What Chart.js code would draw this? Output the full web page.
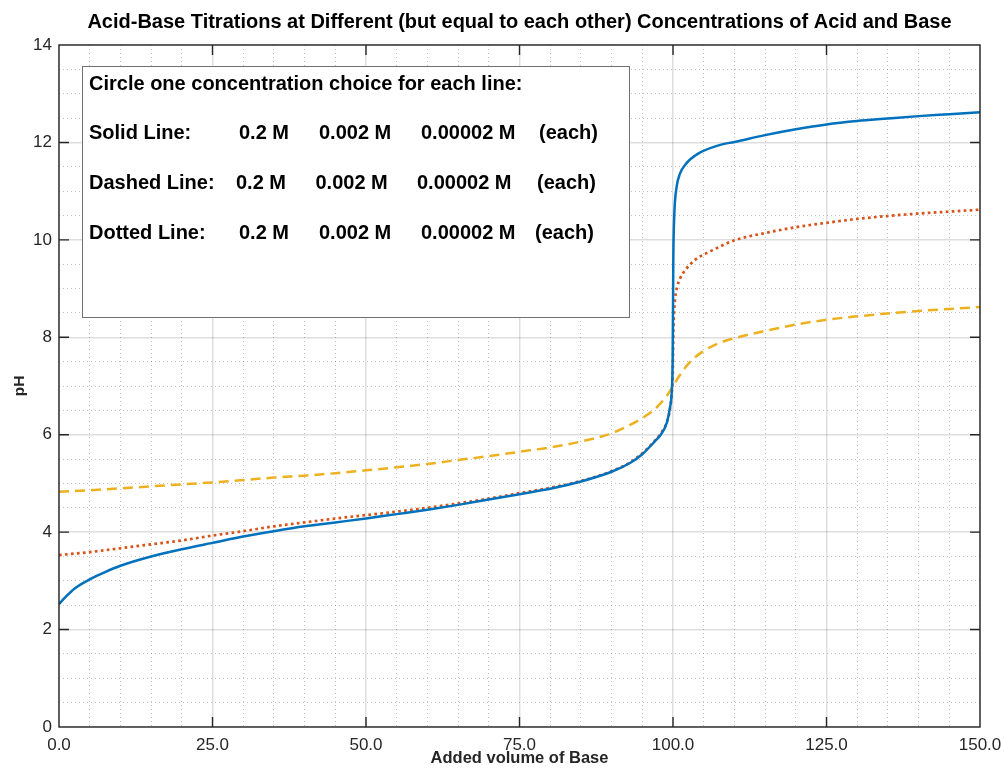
<!DOCTYPE html>
<html>
<head>
<meta charset="utf-8">
<script src="https://cdn.jsdelivr.net/npm/chart.js@4.4.1/dist/chart.umd.min.js"></script>
<style>
  body { margin: 0; background: #fff; }
  #c { display: block; }
</style>
</head>
<body>
<canvas id="c" width="1004" height="775"></canvas>
<script>
// readings: added volume of base vs pH
const solidVol = [0, 1, 2.5, 5, 7.5, 10, 15, 20, 25, 30, 35, 40, 45, 50, 55, 60, 65, 70, 75, 80, 85, 90, 93, 95, 97, 98, 99, 99.5, 99.8, 99.95, 100.05, 100.15, 100.3, 100.6, 101.1, 102.1, 104.1, 107.7, 110, 115, 120, 125, 130, 135, 140, 145, 150];
const solidPH = [2.52, 2.66, 2.84, 3.03, 3.18, 3.31, 3.50, 3.65, 3.78, 3.91, 4.02, 4.12, 4.20, 4.28, 4.37, 4.46, 4.56, 4.67, 4.78, 4.89, 5.04, 5.24, 5.42, 5.60, 5.86, 6.0, 6.25, 6.55, 6.9, 7.6, 9.6, 10.3, 10.75, 11.1, 11.35, 11.56, 11.77, 11.95, 12.01, 12.15, 12.27, 12.37, 12.44, 12.49, 12.54, 12.58, 12.62];

const dottedVol = [0, 5, 10, 15, 20, 25, 30, 35, 40, 45, 50, 55, 60, 65, 70, 75, 80, 85, 90, 93, 95, 97, 98, 99, 99.5, 99.8, 99.95, 100.05, 100.15, 100.35, 100.7, 101.2, 102, 103.6, 106.5, 110, 115, 120, 125, 130, 135, 140, 145, 150];
const dottedPH = [3.53, 3.59, 3.67, 3.75, 3.83, 3.93, 4.02, 4.12, 4.20, 4.28, 4.35, 4.42, 4.50, 4.59, 4.69, 4.80, 4.91, 5.05, 5.25, 5.43, 5.62, 5.87, 6.02, 6.26, 6.52, 6.85, 7.2, 8.0, 8.45, 8.8, 9.04, 9.22, 9.38, 9.59, 9.79, 9.99, 10.14, 10.26, 10.35, 10.43, 10.49, 10.54, 10.58, 10.62];

const dashedVol = [0, 5, 10, 15, 20, 25, 30, 35, 40, 45, 50, 55, 60, 65, 70, 75, 80, 85, 90, 93, 95, 97, 98, 99, 100, 101, 102, 103.5, 105, 107.5, 110, 115, 120, 125, 130, 135, 140, 145, 150];
const dashedPH = [4.83, 4.86, 4.90, 4.94, 4.98, 5.02, 5.07, 5.12, 5.16, 5.21, 5.27, 5.33, 5.40, 5.48, 5.56, 5.65, 5.74, 5.86, 6.03, 6.2, 6.34, 6.52, 6.65, 6.8, 7.0, 7.2, 7.38, 7.58, 7.72, 7.88, 7.98, 8.13, 8.26, 8.36, 8.43, 8.49, 8.54, 8.58, 8.62];

const lineNames = ['Solid Line:', 'Dashed Line:', 'Dotted Line:'];
const concChoices = ['0.2 M', '0.002 M', '0.00002 M'];
const boxHeading = 'Circle one concentration choice for each line:';

const FONT = '"Liberation Sans", Arial, Helvetica, sans-serif';
const INK = '#262626';

function toPoints(xs, ys) {
  return xs.map((x, i) => ({ x: x, y: ys[i] }));
}

// MATLAB-ish box, inward ticks and the text box
const framePlugin = {
  id: 'frame',
  afterDatasetsDraw(chart) {
    const ctx = chart.ctx;
    const a = chart.chartArea;
    const bx = a.left + 23, by = a.top + 21, bw = 547, bh = 251;
    ctx.save();
    ctx.fillStyle = '#fff';
    ctx.fillRect(bx, by, bw, bh);
    ctx.strokeStyle = '#707070';
    ctx.lineWidth = 1;
    ctx.strokeRect(bx + 0.5, by + 0.5, bw, bh);

    ctx.fillStyle = '#000';
    ctx.font = 'bold 20px ' + FONT;
    ctx.textBaseline = 'middle';
    ctx.textAlign = 'left';
    ctx.fillText(boxHeading, bx + 7, by + 18);
    const rowY = [67, 117.5, 167.5];
    const cols = [
      [157, 237, 339, 457],
      [154, 233.5, 335, 455],
      [157, 237, 339, 453]
    ];
    lineNames.forEach((name, r) => {
      const y = by + rowY[r];
      ctx.fillText(name, bx + 7, y);
      concChoices.forEach((c, k) => ctx.fillText(c, bx + cols[r][k], y));
      ctx.fillText('(each)', bx + cols[r][3], y);
    });
    ctx.restore();
  },
  afterDraw(chart) {
    const ctx = chart.ctx;
    const a = chart.chartArea;
    const xs = chart.scales.x, ys = chart.scales.y;
    ctx.save();
    ctx.strokeStyle = INK;
    ctx.lineWidth = 1.4;
    ctx.strokeRect(a.left, a.top, a.right - a.left, a.bottom - a.top);
    ctx.beginPath();
    const len = 10;
    for (let v = 25; v < 150; v += 25) {
      const px = xs.getPixelForValue(v);
      ctx.moveTo(px, a.bottom); ctx.lineTo(px, a.bottom - len);
      ctx.moveTo(px, a.top); ctx.lineTo(px, a.top + len);
    }
    for (let v = 2; v < 14; v += 2) {
      const py = ys.getPixelForValue(v);
      ctx.moveTo(a.left, py); ctx.lineTo(a.left + len, py);
      ctx.moveTo(a.right, py); ctx.lineTo(a.right - len, py);
    }
    ctx.stroke();
    ctx.restore();
  }
};

const majorGrid = 'rgba(0,0,0,0.13)';
const minorGrid = 'rgba(0,0,0,0.24)';

const config = {
  type: 'line',
  data: {
    datasets: [
      {
        label: 'Solid',
        data: toPoints(solidVol, solidPH),
        borderColor: '#0072BD',
        borderWidth: 2.5
      },
      {
        label: 'Dotted',
        data: toPoints(dottedVol, dottedPH),
        borderColor: '#D95319',
        borderWidth: 2.7,
        borderDash: [2.7, 3.3]
      },
      {
        label: 'Dashed',
        data: toPoints(dashedVol, dashedPH),
        borderColor: '#EDB120',
        borderWidth: 2.5,
        borderDash: [10, 6]
      }
    ]
  },
  options: {
    responsive: false,
    animation: false,
    devicePixelRatio: 1,
    layout: { padding: { left: 0, right: 24, top: 0, bottom: 0 } },
    elements: {
      point: { radius: 0 },
      line: { cubicInterpolationMode: 'monotone', fill: false }
    },
    plugins: {
      legend: { display: false },
      tooltip: { enabled: false },
      title: {
        display: true,
        fullSize: false,
        text: 'Acid-Base Titrations at Different (but equal to each other) Concentrations of Acid and Base',
        color: '#000',
        font: { family: FONT, size: 20, weight: 'bold', lineHeight: 1.2 },
        padding: { top: 10, bottom: 11 }
      }
    },
    scales: {
      x: {
        type: 'linear',
        min: 0,
        max: 150,
        afterFit(scale) {
          scale.height = 48;
          scale.paddingLeft = 0;
          scale.paddingRight = 0;
        },
        ticks: {
          stepSize: 5,
          autoSkip: false,
          maxRotation: 0,
          padding: 8,
          color: INK,
          font: { family: FONT, size: 17 },
          callback: (v) => (v % 25 === 0 ? v.toFixed(1) : '')
        },
        grid: {
          drawTicks: false,
          color: (c) => (c.tick && c.tick.value % 25 === 0 ? majorGrid : minorGrid),
          lineWidth: (c) => (c.tick && c.tick.value % 25 === 0 ? 1.5 : 1)
        },
        border: {
          display: false,
          dash: (c) => (c.tick && c.tick.value % 25 === 0 ? [] : [1, 3])
        },
        title: {
          display: true,
          text: 'Added volume of Base',
          color: INK,
          font: { family: FONT, size: 16.5, weight: 'bold', lineHeight: 1.2 },
          padding: { top: 0, bottom: 7 }
        }
      },
      y: {
        type: 'linear',
        min: 0,
        max: 14,
        afterFit(scale) { scale.width = 59; },
        ticks: {
          stepSize: 0.5,
          autoSkip: false,
          padding: 7,
          color: INK,
          font: { family: FONT, size: 17 },
          callback: (v) => (v % 2 === 0 ? String(v) : '')
        },
        grid: {
          drawTicks: false,
          color: (c) => (c.tick && c.tick.value % 2 === 0 ? majorGrid : minorGrid),
          lineWidth: (c) => (c.tick && c.tick.value % 2 === 0 ? 1.5 : 1)
        },
        border: {
          display: false,
          dash: (c) => (c.tick && c.tick.value % 2 === 0 ? [] : [1, 3])
        },
        title: {
          display: true,
          text: 'pH',
          color: INK,
          font: { family: FONT, size: 15.5, weight: 'bold', lineHeight: 1.2 },
          padding: { top: 10, bottom: 0 }
        }
      }
    }
  },
  plugins: [framePlugin]
};

const ctx = document.getElementById('c');
const myChart = new Chart(ctx, config);
</script>
</body>
</html>
